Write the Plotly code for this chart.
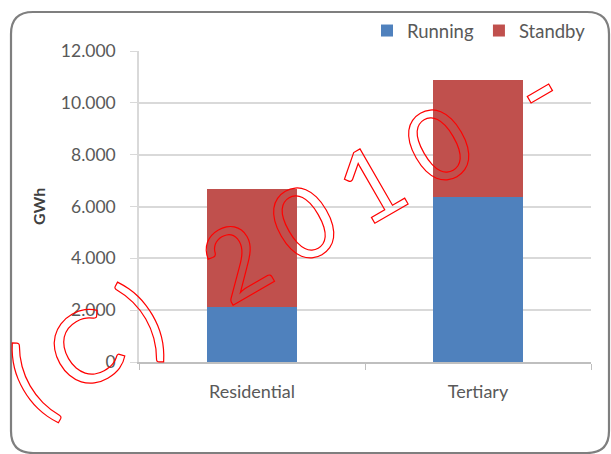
import plotly.graph_objects as go

categories = ["Residential", "Tertiary"]
running = [2130, 6360]
standby = [4550, 4530]
series_names = ["Running", "Standby"]
y_ticks = [0, 2000, 4000, 6000, 8000, 10000, 12000]
watermark = "(C) 2010 -"

W, H = 611, 454
ML, MR, MT, MB = 139, W - 591, 51, H - 362
PW, PH = W - ML - MR, H - MT - MB


def px(x):
    return (x - ML) / PW


def py(y):
    return (H - MB - y) / PH


GREY = "#595959"
FONT = "Lato"

fig = go.Figure()
fig.add_trace(go.Bar(x=categories, y=running, name=series_names[0],
                     marker=dict(color="#4F81BD", line=dict(width=0)), width=0.4))
fig.add_trace(go.Bar(x=categories, y=standby, name=series_names[1],
                     marker=dict(color="#C0504D", line=dict(width=0)), width=0.4))

# rounded border
x0, x1, y0, y1, r = 11, 609, 12, 453, 22
path = (f"M {px(x0+r)},{py(y0)} L {px(x1-r)},{py(y0)} Q {px(x1)},{py(y0)} {px(x1)},{py(y0+r)} "
        f"L {px(x1)},{py(y1-r)} Q {px(x1)},{py(y1)} {px(x1-r)},{py(y1)} "
        f"L {px(x0+r)},{py(y1)} Q {px(x0)},{py(y1)} {px(x0)},{py(y1-r)} "
        f"L {px(x0)},{py(y0+r)} Q {px(x0)},{py(y0)} {px(x0+r)},{py(y0)} Z")

fig.update_layout(
    width=W, height=H,
    margin=dict(l=ML, r=MR, t=MT, b=MB, pad=0),
    barmode="stack",
    plot_bgcolor="white", paper_bgcolor="white",
    separators=",.",
    font=dict(family=FONT, color=GREY, size=17),
    showlegend=True,
    legend=dict(orientation="h", x=1, xanchor="right", y=py(31), yanchor="middle",
                font=dict(size=18.5, color=GREY), itemwidth=30, traceorder="normal",
                bgcolor="rgba(0,0,0,0)"),
    xaxis=dict(type="category", range=[-0.5, 1.5], showgrid=False,
               showline=True, linecolor="#bfbfbf", linewidth=1.5,
               ticks="outside", tickson="boundaries", ticklen=6, tickcolor="#bfbfbf",
               tickfont=dict(size=18, color=GREY), ticklabelstandoff=13),
    yaxis=dict(range=[0, 12000], tickvals=y_ticks, tickformat=",d",
               showgrid=True, gridcolor="#d9d9d9", gridwidth=1.5,
               showline=True, linecolor="#d9d9d9", linewidth=1.5,
               ticks="outside", ticklen=7, tickcolor="#d9d9d9",
               tickfont=dict(size=17.5, color=GREY), ticklabelstandoff=11,
               zeroline=False),
    shapes=[dict(type="path", xref="paper", yref="paper", path=path,
                 line=dict(color="#7f7f7f", width=2.2), fillcolor="rgba(0,0,0,0)",
                 layer="above")],
    annotations=[
        dict(text="<b>GWh</b>", xref="paper", yref="paper", x=px(38), y=py(207),
             textangle=-90, showarrow=False, font=dict(size=16, color="#404040", family=FONT),
             xanchor="center", yanchor="middle"),
        dict(text=watermark, xref="paper", yref="paper", x=px(292), y=py(226),
             textangle=-30, showarrow=False,
             font=dict(size=100, color="#ff0000", family="Lato", weight=400),
             xanchor="center", yanchor="middle"),
    ],
)

post = """
var gd = document.getElementById('{plot_id}');
function styleWM(){
  gd.querySelectorAll('.annotation text').forEach(function(t){
    if (t.textContent.indexOf('2010') >= 0){
      t.style.fill = 'none';
      t.style.stroke = '#ff0000';
      t.style.strokeWidth = '1.2px';
      t.style.letterSpacing = '20px';
    }
  });
}
styleWM();
gd.on('plotly_afterplot', styleWM);
"""

fig.write_html("out.html", post_script=post)
